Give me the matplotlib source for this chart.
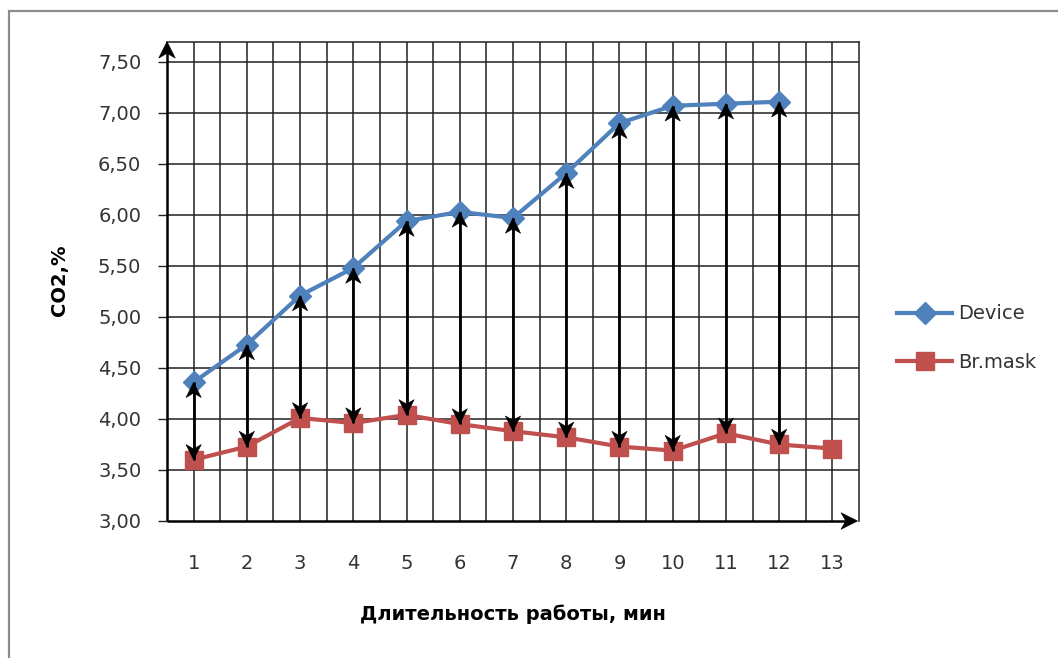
import matplotlib
matplotlib.use("Agg")
import matplotlib.pyplot as plt
from matplotlib.patches import Rectangle, PathPatch
from matplotlib.path import Path
from matplotlib.transforms import Affine2D, ScaledTranslation
from matplotlib.ticker import FuncFormatter

plt.rcParams['font.family'] = ['DejaVu Sans']

# Measurement data (CO2 concentration over running time)
minutes = [1, 2, 3, 4, 5, 6, 7, 8, 9, 10, 11, 12, 13]
device = [4.36, 4.73, 5.21, 5.48, 5.94, 6.03, 5.97, 6.41, 6.90, 7.07, 7.09, 7.11]
br_mask = [3.60, 3.73, 4.01, 3.96, 4.04, 3.95, 3.88, 3.82, 3.73, 3.69, 3.86, 3.75, 3.71]
y_ticks = [3.0, 3.5, 4.0, 4.5, 5.0, 5.5, 6.0, 6.5, 7.0, 7.5]

BLUE = '#4F81BD'
RED = '#C0504D'
GRID = '#202020'
TEXT = '#333333'

W, H = 1058, 658
fig = plt.figure(figsize=(W / 100, H / 100), dpi=100)
ax = fig.add_axes([167 / W, 1 - 521 / H, (859 - 167) / W, (521 - 41.5) / H])

ax.set_xlim(0.5, 13.5)
ax.set_ylim(3.0, 7.70)

# grid: horizontal every 0.5, vertical every half category
for y in y_ticks[1:]:
    ax.axhline(y, color=GRID, lw=1.1, zorder=1)
xg = 1.0
while xg <= 13.01:
    ax.axvline(xg, color=GRID, lw=1.1, zorder=1)
    xg += 0.5

for s in ('top', 'right'):
    ax.spines[s].set_color(GRID)
    ax.spines[s].set_linewidth(1.1)
for s in ('left', 'bottom'):
    ax.spines[s].set_visible(False)


def notched_head(length, half_w, notch):
    return Path([(0, 0), (-half_w, -length), (0, -length + notch), (half_w, -length), (0, 0)],
                [Path.MOVETO, Path.LINETO, Path.LINETO, Path.LINETO, Path.CLOSEPOLY])


def arrowhead(x, y, angle, base, path, z=7):
    tr = (Affine2D().rotate_deg(angle).scale(1 / 72.0) + fig.dpi_scale_trans
          + ScaledTranslation(x, y, base))
    ax.add_patch(PathPatch(path, transform=tr, facecolor='black', edgecolor='black',
                           lw=0.4, zorder=z, clip_on=False))


# axis lines with arrowheads
axis_head = notched_head(12, 6, 3.5)
ax.plot([0, 0], [0, 0.985], color='black', lw=1.8, transform=ax.transAxes,
        clip_on=False, zorder=6, solid_capstyle='butt')
ax.plot([0, 0.99], [0, 0], color='black', lw=1.8, transform=ax.transAxes,
        clip_on=False, zorder=6, solid_capstyle='butt')
arrowhead(0, 1.0, 0, ax.transAxes, axis_head)
arrowhead(0.998, 0, -90, ax.transAxes, axis_head)

ax.set_yticks(y_ticks)
ax.yaxis.set_major_formatter(FuncFormatter(lambda v, p: f"{v:.2f}".replace('.', ',')))
ax.set_xticks(minutes)
ax.set_xticklabels([str(m) for m in minutes])
ax.tick_params(axis='y', direction='out', length=6.5, width=1.0, color=GRID,
               labelsize=14, labelcolor=TEXT, pad=12)
ax.tick_params(axis='x', length=0, labelsize=14, labelcolor=TEXT, pad=24)

ax.plot(minutes[:len(device)], device, color=BLUE, lw=3, marker='D', ms=11,
        label='Device', zorder=4, solid_joinstyle='round')
ax.plot(minutes, br_mask, color=RED, lw=3, marker='s', ms=13,
        label='Br.mask', zorder=4, solid_joinstyle='round')

# double-headed difference arrows
diff_head = notched_head(11, 5.5, 3.2)
for m, top, bot in zip(minutes, device, br_mask):
    ax.plot([m, m], [bot, top], color='black', lw=2.0, zorder=6,
            solid_capstyle='butt')
    arrowhead(m, top, 0, ax.transData, diff_head)
    arrowhead(m, bot, 180, ax.transData, diff_head)

ax.set_ylabel('CO2,%', fontsize=14, fontweight='bold', color='black')
ax.yaxis.set_label_coords((60 - 167) / (859 - 167), (521 - 280) / (521 - 41.5))
ax.set_xlabel('Длительность работы, мин', fontsize=14, fontweight='bold', color='black')
ax.xaxis.set_label_coords(0.5, -(614 - 521) / (521 - 41.5))
ax.xaxis.label.set_va('center')
ax.yaxis.label.set_va('center')

fig.legend(loc='center left', bbox_to_anchor=(897 / W, 1 - 338 / H), frameon=False,
           fontsize=14, handlelength=2.85, handletextpad=0.3, labelspacing=1.5,
           borderpad=0, borderaxespad=0, labelcolor=TEXT)

# chart area frame
fig.add_artist(Rectangle((9 / W, -0.1), 1.2, 1 - 11 / H + 0.1, transform=fig.transFigure,
                         facecolor='none', edgecolor='#8c8c8c', lw=1.6))

fig.savefig('out.png', dpi=100)
